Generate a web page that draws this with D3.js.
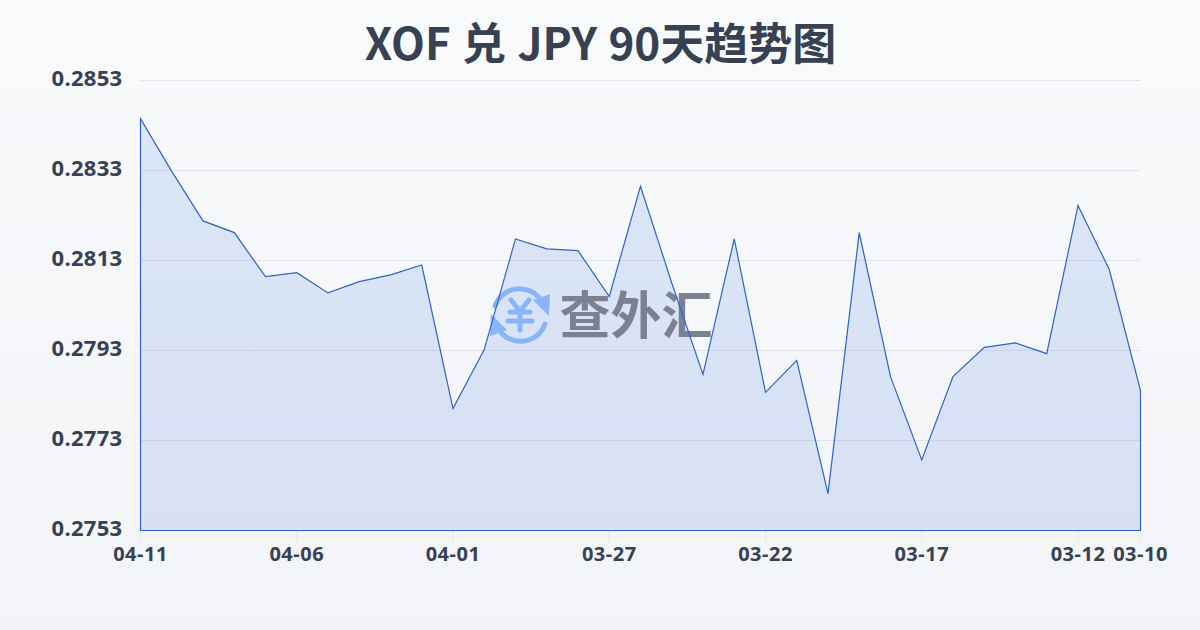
<!DOCTYPE html>
<html>
<head>
<meta charset="utf-8">
<script src="https://cdn.jsdelivr.net/npm/d3@7/dist/d3.min.js"></script>
<style>
  html, body { margin: 0; padding: 0; }
  svg { display: block; font-family: 'Noto Sans CJK SC', 'Noto Sans', sans-serif; }
</style>
</head>
<body>
<div id="chart"></div>
<script>
const dates = [
  '04-11', '04-10', '04-09', '04-08', '04-07', '04-06', '04-05', '04-04', '04-03', '04-02', '04-01',
  '03-31', '03-30', '03-29', '03-28', '03-27', '03-26', '03-25', '03-24', '03-23', '03-22',
  '03-21', '03-20', '03-19', '03-18', '03-17', '03-16', '03-15', '03-14', '03-13', '03-12', '03-11', '03-10',
];
const rates = [
  0.28445, 0.28328, 0.28218, 0.28192, 0.28094, 0.28103, 0.28058, 0.28083, 0.28098, 0.2812, 0.27801,
  0.27932, 0.28178, 0.28156, 0.28152, 0.2805, 0.28295, 0.2808, 0.27877, 0.28178, 0.27837,
  0.27908, 0.27612, 0.28192, 0.27872, 0.27687, 0.27872, 0.27937, 0.27947, 0.27923, 0.28252, 0.2811, 0.27841,
];
const yTicks = [0.2753, 0.2773, 0.2793, 0.2813, 0.2833, 0.2853];
const xTicks = ['04-11', '04-06', '04-01', '03-27', '03-22', '03-17', '03-12', '03-10'];
const chartTitle = 'XOF 兑 JPY 90天趋势图';

const width = 1200;
const height = 630;
const margin = { t: 80.5, r: 59.5, b: 99.5, l: 140.5 };
const textColor = '#374151';

const svg = d3
  .select('#chart')
  .append('svg')
  .attr('width', width)
  .attr('height', height)
  .attr('viewBox', [0, 0, width, height]);

const defs = svg.append('defs');

const bgGrad = defs
  .append('linearGradient')
  .attr('id', 'bg')
  .attr('x1', 0)
  .attr('y1', 0)
  .attr('x2', 0)
  .attr('y2', 1);
bgGrad.append('stop').attr('offset', 0).attr('stop-color', '#f8fafc');
bgGrad.append('stop').attr('offset', 1).attr('stop-color', '#f2f4f7');

const areaGrad = defs
  .append('linearGradient')
  .attr('id', 'areaFill')
  .attr('x1', 0)
  .attr('y1', 0)
  .attr('x2', 0)
  .attr('y2', 1);
areaGrad.append('stop').attr('offset', 0).attr('stop-color', '#dbe6f8');
areaGrad.append('stop').attr('offset', 1).attr('stop-color', '#d8e0f4');

svg.append('rect').attr('width', width).attr('height', height).attr('fill', 'url(#bg)');

const x = d3
  .scalePoint()
  .domain(dates)
  .range([margin.l, width - margin.r]);

const y = d3
  .scaleLinear()
  .domain([yTicks[0], yTicks[yTicks.length - 1]])
  .range([height - margin.b, margin.t]);

// Title
svg
  .append('text')
  .attr('x', width / 2 + 0.5)
  .attr('y', 60)
  .attr('text-anchor', 'middle')
  .attr('font-size', 44)
  .attr('font-weight', 700)
  .attr('word-spacing', 1.5)
  .attr('fill', textColor)
  .text(chartTitle);

// Area under the line, closed down to the baseline
const area = d3
  .area()
  .x((d, i) => x(dates[i]))
  .y0(y(yTicks[0]))
  .y1((d) => y(d));

svg.append('path').datum(rates).attr('d', area).attr('fill', 'url(#areaFill)');

// Grid lines sit on top of the fill, they stay visible through it
const yAxis = d3
  .axisLeft(y)
  .tickValues(yTicks)
  .tickFormat(d3.format('.4f'))
  .tickSize(-(width - margin.l - margin.r))
  .tickPadding(18)
  .offset(0);

const yAxisG = svg.append('g').attr('transform', `translate(${margin.l},0)`).call(yAxis);
yAxisG.select('.domain').remove();
yAxisG.selectAll('line').attr('stroke', '#5a6f9c').attr('stroke-opacity', 0.14);
yAxisG
  .selectAll('text')
  .attr('font-size', 22)
  .attr('font-weight', 700)
  .attr('fill', textColor)
  .attr('font-family', "'Noto Sans', sans-serif")
  .attr('letter-spacing', 0.3)
  .attr('dy', '0.24em');

const xAxis = d3.axisBottom(x).tickValues(xTicks).tickSize(11).tickPadding(5).offset(0);

const xAxisG = svg
  .append('g')
  .attr('transform', `translate(0,${height - margin.b})`)
  .call(xAxis);
xAxisG.select('.domain').remove();
xAxisG.selectAll('line').attr('stroke', '#e3e6eb');
xAxisG
  .selectAll('text')
  .attr('font-size', 20)
  .attr('font-weight', 700)
  .attr('fill', textColor)
  .attr('font-family', "'Noto Sans', sans-serif")
  .attr('letter-spacing', 0.5);

// Watermark
const mark = svg.append('g').attr('class', 'watermark');
const icon = mark
  .append('g')
  .attr('transform', 'translate(520,315)')
  .attr('fill', 'none')
  .attr('stroke', '#8ab4f8')
  .attr('stroke-linecap', 'round');
icon.append('path').attr('stroke-width', 5).attr('d', 'M-25,-9 A26,26 0 0 1 21,-15');
icon.append('path').attr('stroke-width', 5).attr('d', 'M25,9 A26,26 0 0 1 -21,15');
icon
  .append('path')
  .attr('stroke', 'none')
  .attr('fill', '#8ab4f8')
  .attr('d', 'M13,-15 L30,-21 L29,1 Z M-13,15 L-30,21 L-29,-1 Z');
icon
  .append('path')
  .attr('stroke-width', 5)
  .attr('d', 'M-9,-15 L0,-4 L9,-15 M-10,-3 H10 M-12,6 H12 M0,-4 V15');

mark
  .append('text')
  .attr('x', 559.5)
  .attr('y', 334)
  .attr('font-size', 51)
  .attr('font-weight', 700)
  .attr('font-family', "'Noto Sans CJK SC', sans-serif")
  .attr('fill', '#7b8190')
  .text('查外汇');

// Line runs down both ends to the baseline, same as the source chart
const line = d3
  .line()
  .x((d) => x(d[0]))
  .y((d) => y(d[1]));

const outline = [
  [dates[0], yTicks[0]],
  ...dates.map((d, i) => [d, rates[i]]),
  [dates[dates.length - 1], yTicks[0]],
];

svg
  .append('path')
  .datum(outline)
  .attr('d', (d) => `${line(d)}Z`)
  .attr('fill', 'none')
  .attr('stroke', '#2f62c8')
  .attr('stroke-width', 1.2);
</script>
</body>
</html>
